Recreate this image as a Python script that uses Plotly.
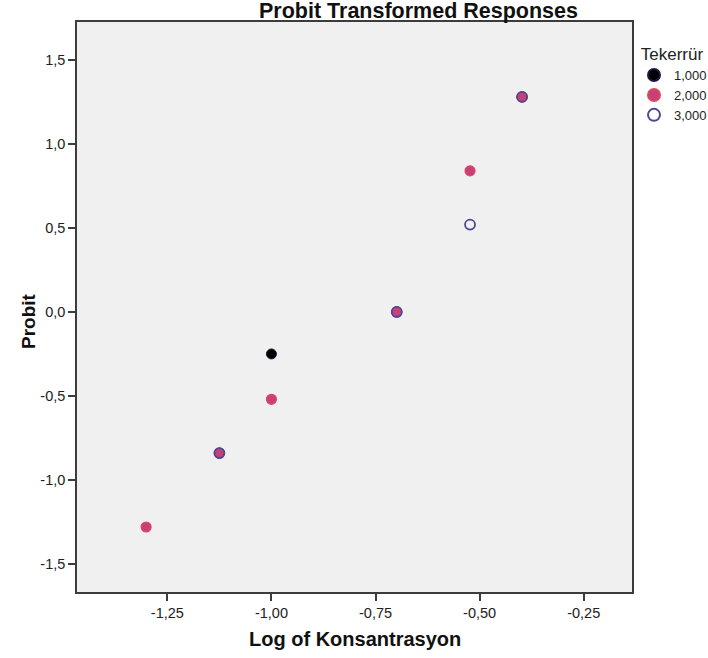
import plotly.graph_objects as go

# Data (log10 concentration vs probit), per replicate (Tekerrür)
rep1_x = [-1.125, -1.0, -0.699, -0.398]
rep1_y = [-0.84, -0.25, 0.0, 1.28]
rep2_x = [-1.301, -1.125, -1.0, -0.699, -0.523, -0.398]
rep2_y = [-1.28, -0.84, -0.52, 0.0, 0.84, 1.28]
rep3_x = [-1.125, -0.699, -0.523, -0.398]
rep3_y = [-0.84, 0.0, 0.52, 1.28]
series_names = ["1,000", "2,000", "3,000"]

x_tickvals = [-1.25, -1.0, -0.75, -0.5, -0.25]
x_ticktext = ["-1,25", "-1,00", "-0,75", "-0,50", "-0,25"]
y_tickvals = [-1.5, -1.0, -0.5, 0.0, 0.5, 1.0, 1.5]
y_ticktext = ["-1,5", "-1,0", "-0,5", "0,0", "0,5", "1,0", "1,5"]

FONT = "Liberation Sans, Arial, sans-serif"

L, R, T, B = 77, 76, 22, 66
W, H = 708, 658
PW, PH = W - L - R, H - T - B


def px_x(px):
    return (px - L) / PW


def px_y(py):
    return (H - B - py) / PH


fig = go.Figure()
fig.add_trace(go.Scatter(
    x=rep1_x, y=rep1_y, mode="markers", name=series_names[0],
    marker=dict(size=10, color="#000000", line=dict(color="#1a1a40", width=1)),
))
fig.add_trace(go.Scatter(
    x=rep2_x, y=rep2_y, mode="markers", name=series_names[1],
    marker=dict(size=10, color="#C8407A", line=dict(color="#E2455E", width=1.2)),
))
fig.add_trace(go.Scatter(
    x=rep3_x, y=rep3_y, mode="markers", name=series_names[2],
    marker=dict(size=10, symbol="circle-open", color="#4A4892", line=dict(width=1.8)),
))

axis_common = dict(
    showline=True, mirror=True, linecolor="#3c3c3c", linewidth=1.6,
    ticks="outside", ticklen=7, tickcolor="#3c3c3c", tickwidth=1.5,
    showgrid=False, zeroline=False,
    tickfont=dict(family=FONT, size=14.5, color="#222222"),
)

fig.update_layout(
    width=W, height=H,
    margin=dict(l=L, r=R, t=T, b=B, autoexpand=False),
    paper_bgcolor="white", plot_bgcolor="#F0F0F0",
    showlegend=True,
    legend=dict(
        title=dict(text="\u00a0Tekerrür", font=dict(family=FONT, size=17, color="#222222")),
        font=dict(family=FONT, size=13, color="#222222"),
        x=px_x(634), y=px_y(38), xanchor="left", yanchor="top",
        itemwidth=30, itemsizing="constant", tracegroupgap=0, bgcolor="rgba(0,0,0,0)",
    ),
    xaxis=dict(range=[-1.467, -0.134], tickvals=x_tickvals, ticktext=x_ticktext, **axis_common),
    yaxis=dict(range=[-1.667, 1.726], tickvals=y_tickvals, ticktext=y_ticktext, **axis_common),
    annotations=[
        dict(text="<b>Probit Transformed Responses</b>", xref="paper", yref="paper",
             x=px_x(418), y=px_y(11), xanchor="center", yanchor="middle",
             showarrow=False, font=dict(family=FONT, size=21.5, color="#111111")),
        dict(text="<b>Log of Konsantrasyon</b>", xref="paper", yref="paper",
             x=px_x(355), y=px_y(639), xanchor="center", yanchor="middle",
             showarrow=False, font=dict(family=FONT, size=20, color="#111111")),
        dict(text="<b>Probit</b>", xref="paper", yref="paper",
             x=px_x(28), y=px_y(321), xanchor="center", yanchor="middle",
             textangle=-90, showarrow=False, font=dict(family=FONT, size=19, color="#111111")),
    ],
)

# remove the browser's default page margin so the figure sits at the window origin
fig.write_html("out.html", config={"displayModeBar": False},
               post_script="document.body.style.margin='0';")
